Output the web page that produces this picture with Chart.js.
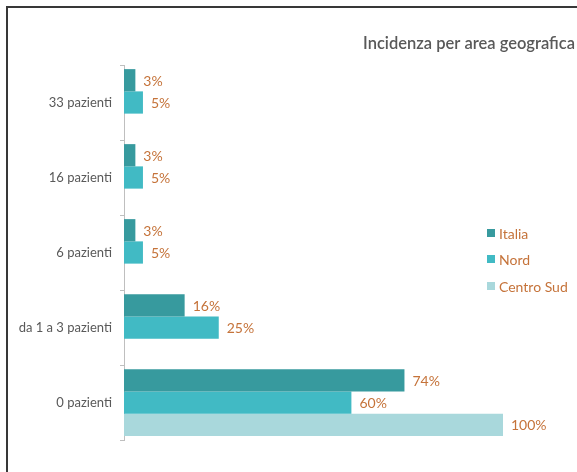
<!DOCTYPE html>
<html>
<head>
<meta charset="utf-8">
<script src="https://cdn.jsdelivr.net/npm/chart.js@4"></script>
<style>
  html, body { margin: 0; padding: 0; background: #fff; }
  #wrap { position: relative; width: 577px; height: 472px; overflow: hidden; }
  #frame { position: absolute; left: 6px; top: 6px; width: 700px; height: 600px;
           border-left: 2px solid #383838; border-top: 2px solid #383838; }
  canvas { position: absolute; left: 0; top: 0; }
</style>
</head>
<body>
<div id="wrap">
  <div id="frame"></div>
  <canvas id="c" width="577" height="472"></canvas>
</div>
<script>
const categories = ['33 pazienti', '16 pazienti', '6 pazienti', 'da 1 a 3 pazienti', '0 pazienti'];
const seriesNames = ['Italia', 'Nord', 'Centro Sud'];
const italia = [3, 3, 3, 16, 74];
const nord = [5, 5, 5, 25, 60];
const centroSud = [0, 0, 0, 0, 100];
const colors = ['#379A9E', '#41BAC4', '#A9D8DC'];
const chartTitle = 'Incidenza per area geografica';

const labelColor = '#C5733A';
const textGray = '#595959';
const fontFamily = 'Lato, "Open Sans", sans-serif';

// value labels at the end of each bar
const valueLabels = {
  id: 'valueLabels',
  afterDatasetsDraw(chart) {
    const ctx = chart.ctx;
    ctx.save();
    ctx.font = '14px ' + fontFamily;
    ctx.fillStyle = labelColor;
    ctx.textAlign = 'left';
    ctx.textBaseline = 'middle';
    chart.data.datasets.forEach((ds, i) => {
      const meta = chart.getDatasetMeta(i);
      meta.data.forEach((bar, j) => {
        const v = ds.data[j];
        if (!v) return;
        ctx.fillText(v + '%', bar.x + 8, bar.y + 1);
      });
    });
    ctx.restore();
  }
};

// title and legend placed to the right of the plot
const sideDecor = {
  id: 'sideDecor',
  afterDraw(chart) {
    const ctx = chart.ctx;
    ctx.save();
    ctx.font = '600 16.5px ' + fontFamily;
    ctx.fillStyle = textGray;
    ctx.textAlign = 'right';
    ctx.textBaseline = 'middle';
    ctx.fillText(chartTitle, 575, 44);

    const rows = [233, 259, 286];
    ctx.font = '14px ' + fontFamily;
    ctx.textAlign = 'left';
    chart.data.datasets.forEach((ds, i) => {
      ctx.fillStyle = ds.backgroundColor;
      ctx.fillRect(487, rows[i] - 4, 8, 8);
      ctx.fillStyle = labelColor;
      ctx.fillText(ds.label, 499, rows[i] + 1);
    });
    ctx.restore();
  }
};

new Chart(document.getElementById('c'), {
  type: 'bar',
  data: {
    labels: categories,
    datasets: [
      { label: seriesNames[0], data: italia, backgroundColor: colors[0] },
      { label: seriesNames[1], data: nord, backgroundColor: colors[1] },
      { label: seriesNames[2], data: centroSud, backgroundColor: colors[2] }
    ]
  },
  options: {
    indexAxis: 'y',
    responsive: false,
    animation: false,
    devicePixelRatio: 1,
    categoryPercentage: 0.89,
    barPercentage: 1,
    layout: { padding: { left: 0, right: 74, top: 65, bottom: 32 } },
    plugins: {
      legend: { display: false },
      title: { display: false },
      tooltip: { enabled: false }
    },
    scales: {
      x: { display: false, min: 0, max: 100 },
      y: {
        afterFit(scale) { scale.width = 124; },
        border: { display: true, color: '#BFBFBF', width: 1 },
        grid: { drawOnChartArea: false, drawTicks: true, tickLength: 4, color: '#BFBFBF', offset: true },
        ticks: { color: textGray, padding: 8, font: { family: fontFamily, size: 13 } }
      }
    }
  },
  plugins: [valueLabels, sideDecor]
});
</script>
</body>
</html>
